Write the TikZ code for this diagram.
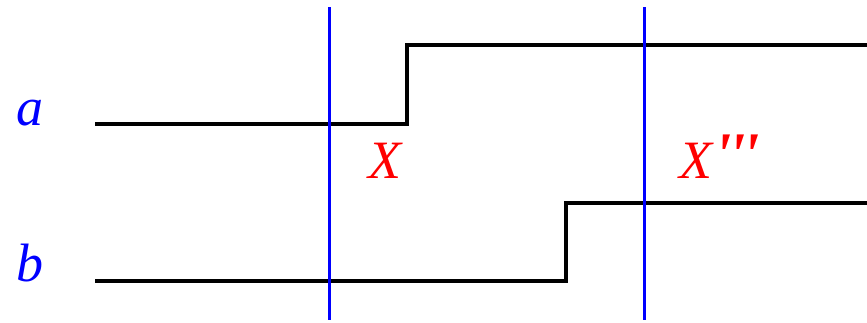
\documentclass[tikz,border=0pt]{standalone}
\usepackage{fontspec}
\setmainfont{Liberation Serif}
\begin{document}
\begin{tikzpicture}[x=1pt,y=-1pt,
  sig/.style={line width=3.4pt,black},
  cut/.style={line width=3pt,blue},
  lbl/.style={font=\fontsize{54}{60}\selectfont\itshape,inner sep=0pt,anchor=base},
  sname/.style={lbl,text=blue},
  cname/.style={lbl,text=red}]
\useasboundingbox (0,0) rectangle (867,322);
% signal a
\coordinate (a0) at (95,124);
\coordinate (a1) at (407,124);
\coordinate (a2) at (407,45);
\coordinate (a3) at (867,45);
\draw[sig] (a0) -- (a1) -- (a2) -- (a3);
% signal b
\coordinate (b0) at (95,281);
\coordinate (b1) at (566,281);
\coordinate (b2) at (566,203);
\coordinate (b3) at (867,203);
\draw[sig] (b0) -- (b1) -- (b2) -- (b3);
% cuts
\coordinate (c1t) at (329,7);
\coordinate (c1b) at (329,320);
\coordinate (c2t) at (644,7);
\coordinate (c2b) at (644,320);
\draw[cut] (c1t) -- (c1b);
\draw[cut] (c2t) -- (c2b);
% labels
\node[sname] (la) at (30,125) {a};
\node[sname] (lb) at (30,281) {b};
\node[cname] (lx) at (385,178) {X};
\node[cname,anchor=base west] (lx3) at (679,178) {X\kern2pt\raisebox{3pt}{\fontsize{62}{66}\selectfont\bfseries\itshape\textquotesingle\kern-3pt\textquotesingle\kern-3pt\textquotesingle}};
\end{tikzpicture}
\end{document}
